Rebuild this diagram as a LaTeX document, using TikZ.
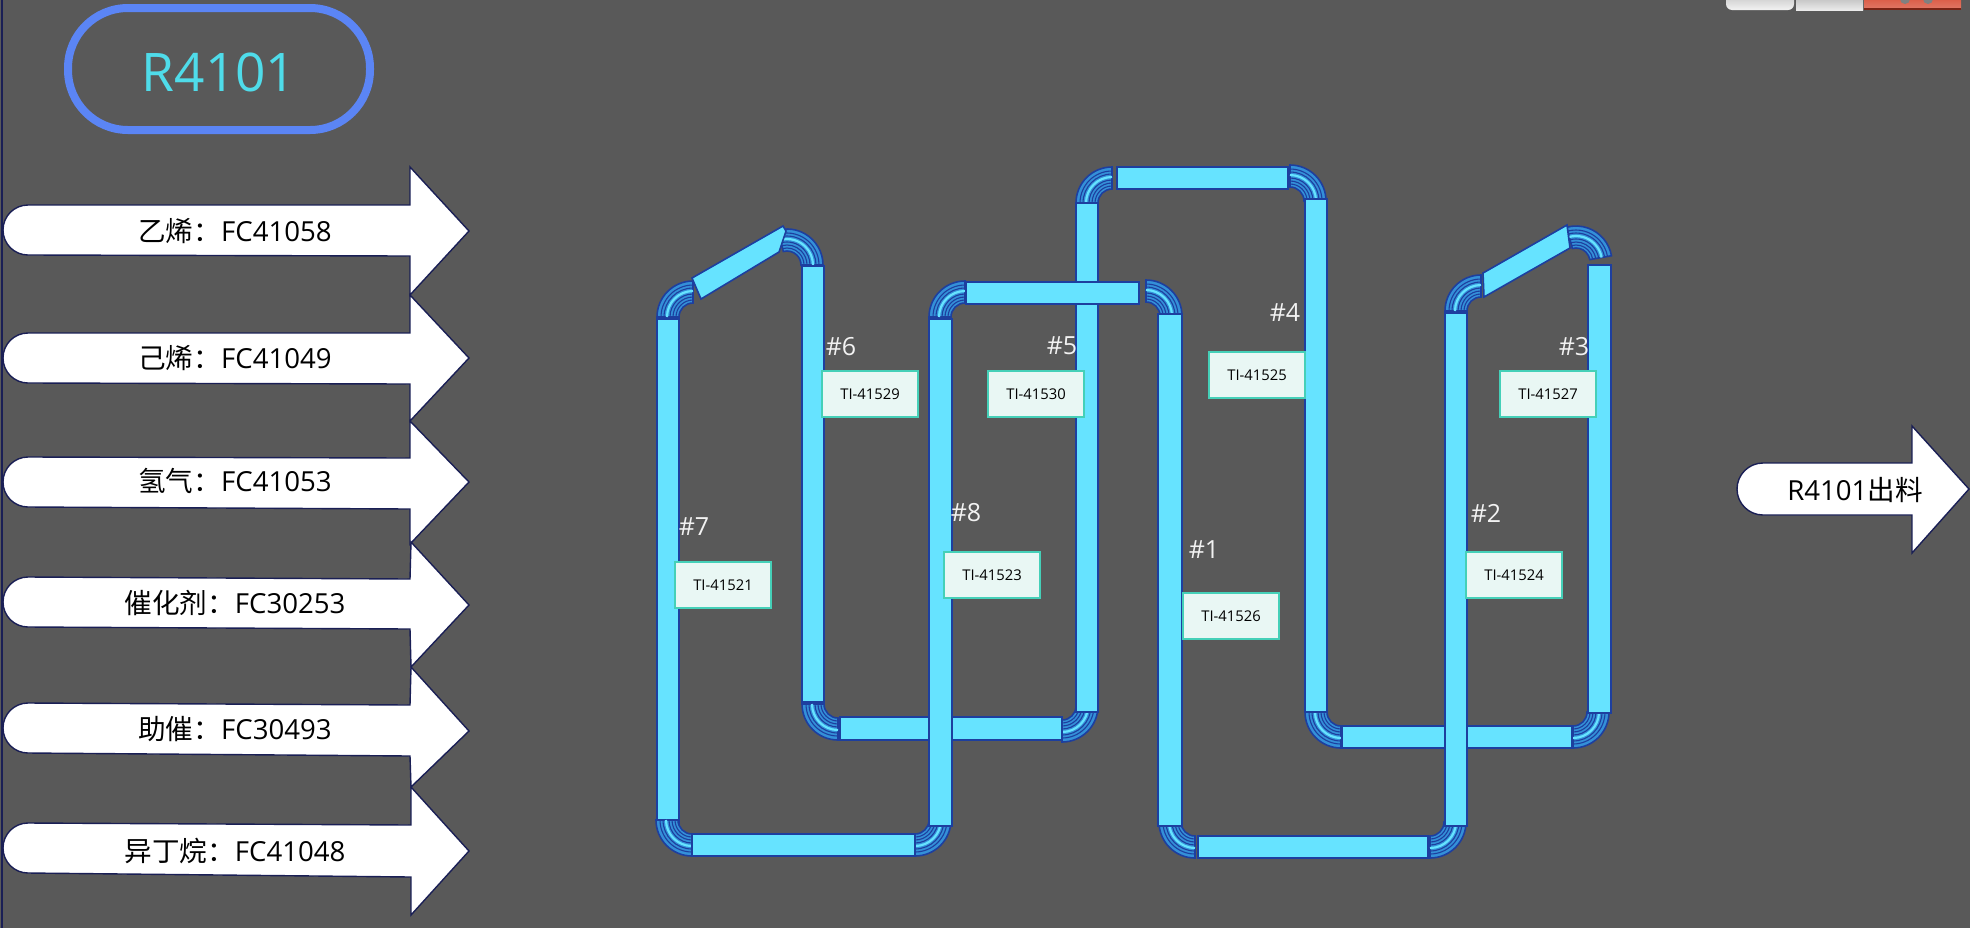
\documentclass[tikz,border=0pt]{standalone}
\usepackage{fontspec}
\setmainfont{Open Sans}
\newfontfamily\cjk{Noto Sans CJK SC}

\definecolor{pipeblue}{HTML}{1D3F9F}
\definecolor{pipecyan}{HTML}{66E3FF}
\definecolor{bendmid}{HTML}{3490D8}
\definecolor{sensorline}{HTML}{45D0B8}
\definecolor{sensorfill}{HTML}{E9F7F4}
\definecolor{feedline}{HTML}{1A1F55}
\definecolor{titleblue}{HTML}{5B85F5}
\definecolor{titlecyan}{HTML}{4FDCEA}
\definecolor{closered}{HTML}{D9533C}
\definecolor{closedark}{HTML}{7A2415}

% one pipe bend: centre x, centre y, start angle, end angle
\newcommand{\elbow}[4]{
	\begin{scope}[shift={(#1,#2)}]
		\filldraw[bendbody] (#3:14) arc (#3:#4:14) -- (#4:36) arc (#4:#3:36) -- cycle;
		\foreach \rad in {17,20,23,29,32} {\draw[bendline] (#3:\rad) arc (#3:#4:\rad);}
		\draw[bendglow] (#3:26) arc (#3:#4:26);
	\end{scope}
}

\begin{document}
\begin{tikzpicture}[x=0.5pt,y=-0.5pt]
		\tikzstyle{pipe}=[draw=pipeblue,fill=pipecyan,line width=0.8pt]
		\tikzstyle{bendbody}=[draw=pipeblue,fill=bendmid,line width=0.8pt]
		\tikzstyle{bendline}=[draw=pipeblue,line width=0.55pt]
		\tikzstyle{bendglow}=[draw=pipecyan,line width=1.1pt]
		\tikzstyle{sensor}=[draw=sensorline,fill=sensorfill,line width=0.7pt,minimum width=48pt,minimum height=23pt,inner sep=0pt,font=\fontsize{7.4}{9}\selectfont,text=black]
		\tikzstyle{bedno}=[font=\fontsize{12.5}{15}\selectfont,text=white!95!black]
		\tikzstyle{feed}=[draw=feedline,fill=white,line width=0.7pt]
		\tikzstyle{feedtext}=[font=\fontsize{13.8}{16}\selectfont,text=black]

		\clip (0,0) rectangle (1970,928);
		\fill[black!65] (0,0) rectangle (1970,928);
		\draw[color=feedline,line width=1pt] (1.5,0) -- (1.5,928);

		% window buttons
		\shade[top color=black!25,bottom color=white!95!black,rounded corners=3pt] (1726,-8) rectangle (1794,10);
		\shade[top color=black!28,bottom color=black!8] (1796,-5) rectangle (1863,10);
		\shade[top color=closered,bottom color=closered!80!white] (1864,-5) rectangle (1961,8);
		\fill[closedark] (1864,8) rectangle (1961,10);
		\fill[black!50] (1905,-1) circle (5);
		\fill[black!50] (1928,-1) circle (5);

		% title
		\node[draw=titleblue,line width=4pt,rounded corners=30pt,minimum width=151pt,minimum height=61pt,inner sep=0pt,text=titlecyan,text height=23pt,font=\fontsize{26.6}{30}\selectfont] (title) at (219,69) {R4101};

		% feeds
		\draw[feed] (28,205) -- (410,205) -- (410,167) -- (469,231) -- (410,295) -- (410,256) -- (28,255) arc (90:270:25) -- cycle;
		\draw[feed] (28,333) -- (410,333) -- (410,295) -- (469,358) -- (410,421) -- (410,384) -- (28,383) arc (90:270:25) -- cycle;
		\draw[feed] (28,457) -- (410,458) -- (410,421) -- (469,482) -- (410,544) -- (410,509) -- (28,507) arc (90:270:25) -- cycle;
		\draw[feed] (28,577) -- (410,579) -- (411,542) -- (469,605) -- (411,667) -- (410,629) -- (28,627) arc (90:270:25) -- cycle;
		\draw[feed] (28,703) -- (410,705) -- (411,667) -- (469,731) -- (411,787) -- (410,756) -- (28,753) arc (90:270:25) -- cycle;
		\draw[feed] (28,823) -- (411,825) -- (411,787) -- (469,851) -- (411,915) -- (411,877) -- (28,873) arc (90:270:25) -- cycle;
		\draw[feed] (1763,463) -- (1912,463) -- (1912,426) -- (1969,489) -- (1912,553) -- (1912,515) -- (1763,515) arc (90:270:26) -- cycle;

		\node[feedtext] (ethylene) at (235,231) {{\cjk 乙烯：}FC41058};
		\node[feedtext] (hexene) at (235,358) {{\cjk 己烯：}FC41049};
		\node[feedtext] (hydrogen) at (235,481) {{\cjk 氢气：}FC41053};
		\node[feedtext] (catalyst) at (235,603) {{\cjk 催化剂：}FC30253};
		\node[feedtext] (cocat) at (235,729) {{\cjk 助催：}FC30493};
		\node[feedtext] (isobutane) at (235,851) {{\cjk 异丁烷：}FC41048};
		\node[feedtext] (outlet) at (1855,490) {R4101{\cjk 出料}};

		% bends
		\draw[pipe] (657,319) rectangle (679,826);
		\elbow{693}{317}{180}{270}
		\elbow{787}{265}{255}{360}
		\elbow{838}{704}{90}{180}
		\elbow{1062}{706}{0}{90}
		\elbow{692}{820}{90}{180}
		\elbow{915}{820}{0}{90}
		\elbow{965}{317}{180}{270}
		\elbow{1146}{316}{270}{360}
		\elbow{1112}{203}{180}{270}
		\elbow{1290}{201}{270}{360}
		\elbow{1195}{822}{90}{180}
		\elbow{1430}{822}{0}{90}
		\elbow{1341}{712}{90}{180}
		\elbow{1573}{712}{0}{90}
		\elbow{1481}{311}{180}{270}
		\elbow{1576}{262}{255}{350}

		% runs
		\draw[pipe] (1076,203) rectangle (1098,712);
		\draw[pipe] (802,266) rectangle (824,702);
		\draw[pipe] (1305,199) rectangle (1327,712);
		\draw[pipe] (1158,314) rectangle (1182,826);
		\draw[pipe] (1588,265) rectangle (1611,713);
		\draw[pipe] (1117,167) rectangle (1288,189);
		\draw[pipe] (966,282) rectangle (1139,304);
		\draw[pipe] (840,717) rectangle (1062,740);
		\draw[pipe] (1342,726) rectangle (1572,748);
		\draw[pipe] (692,834) rectangle (915,856);
		\draw[pipe] (1198,836) rectangle (1428,858);
		\draw[pipe] (929,319) rectangle (952,826);
		\draw[pipe] (1445,313) rectangle (1467,826);
		\draw[pipe] (692,278) -- (783,226) -- (786,231) -- (779,252) -- (701,299) -- cycle;
		\draw[pipe] (1483,273) -- (1567,225) -- (1570,248) -- (1484,297) -- cycle;

		% sensors
		\node[sensor] (ti41529) at (870,394) {TI-41529};
		\node[sensor] (ti41530) at (1036,394) {TI-41530};
		\node[sensor] (ti41525) at (1257,375) {TI-41525};
		\node[sensor] (ti41527) at (1548,394) {TI-41527};
		\node[sensor] (ti41521) at (723,585) {TI-41521};
		\node[sensor] (ti41523) at (992,575) {TI-41523};
		\node[sensor] (ti41526) at (1231,616) {TI-41526};
		\node[sensor] (ti41524) at (1514,575) {TI-41524};

		\node[bedno] (bed6) at (841,347) {\#6};
		\node[bedno] (bed5) at (1062,346) {\#5};
		\node[bedno] (bed4) at (1285,313) {\#4};
		\node[bedno] (bed3) at (1574,347) {\#3};
		\node[bedno] (bed2) at (1486,513) {\#2};
		\node[bedno] (bed7) at (694,527) {\#7};
		\node[bedno] (bed8) at (966,513) {\#8};
		\node[bedno] (bed1) at (1204,550) {\#1};
\end{tikzpicture}
\end{document}
